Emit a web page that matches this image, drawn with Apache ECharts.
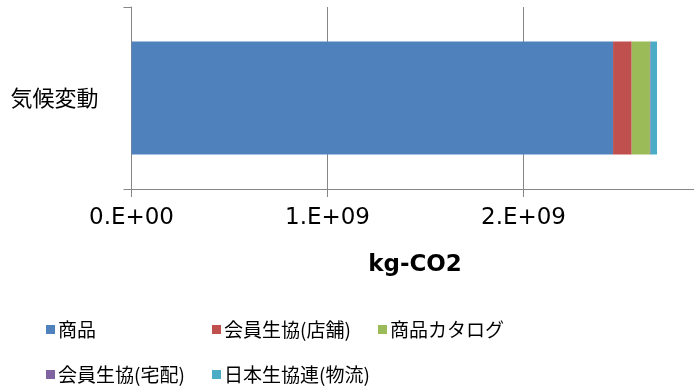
<!DOCTYPE html>
<html lang="ja">
<head>
<meta charset="utf-8" />
<title>気候変動</title>
<script src="https://cdn.jsdelivr.net/npm/echarts@6/dist/echarts.min.js"></script>
<style>
  html, body { margin: 0; padding: 0; background: #fff; }
  #main { width: 694px; height: 388px; }
</style>
</head>
<body>
<div id="main"></div>
<script>
// データ
var categories = ['気候変動'];
var seriesNames = ['商品', '会員生協(店舗)', '商品カタログ', '会員生協(宅配)', '日本生協連(物流)'];
var seriesValues = [
  [2.457e9],   // 商品
  [0.095e9],   // 会員生協(店舗)
  [0.093e9],   // 商品カタログ
  [0.004e9],   // 会員生協(宅配)
  [0.032e9]    // 日本生協連(物流)
];
var colors = ['#4F81BD', '#C0504D', '#9BBB59', '#8064A2', '#4BACC6'];
// 3.E+09 は画像の外なので表示しない
var tickLabels = {0: '0.E+00', 1e9: '1.E+09', 2e9: '2.E+09'};

var jp = '"Noto Sans CJK JP", sans-serif';
var axisColor = '#868686';

var chart = echarts.init(document.getElementById('main'), null, { renderer: 'canvas' });

// 凡例の位置 (行ごと)
var legendPos = [
  { left: 46, top: 320 },
  { left: 212, top: 320 },
  { left: 378, top: 320 },
  { left: 46, top: 365 },
  { left: 212, top: 365 }
];

var legends = seriesNames.map(function (name, i) {
  return {
    data: [name],
    left: legendPos[i].left,
    top: legendPos[i].top,
    icon: 'rect',
    itemWidth: 9,
    itemHeight: 9,
    itemGap: 0,
    padding: 0,
    textStyle: { fontFamily: jp, fontSize: 19, color: '#000', padding: [0, 0, 0, -2] }
  };
});

var series = seriesNames.map(function (name, i) {
  return {
    name: name,
    type: 'bar',
    stack: 'total',
    barWidth: 113,
    itemStyle: { color: colors[i] },
    data: seriesValues[i]
  };
});

var option = {
  animation: false,
  backgroundColor: '#fff',
  color: colors,
  grid: {
    left: 131.5, right: -25.5, top: 7, bottom: 199,
    containLabel: false,
    outerBoundsMode: 'none'
  },
  legend: legends,
  xAxis: {
    type: 'value',
    min: 0,
    max: 3e9,
    interval: 1e9,
    axisLine: { show: true, lineStyle: { color: axisColor, width: 1 } },
    axisTick: { show: true, length: 8, lineStyle: { color: axisColor } },
    splitLine: { show: true, lineStyle: { color: axisColor, width: 1 } },
    axisLabel: {
      margin: 18,
      fontFamily: '"DejaVu Sans", sans-serif',
      fontSize: 23,
      color: '#000',
      formatter: function (v) { return tickLabels[v] !== undefined ? tickLabels[v] : ''; }
    }
  },
  yAxis: {
    type: 'category',
    data: categories,
    axisLine: { show: true, lineStyle: { color: axisColor, width: 1 } },
    axisTick: { show: true, length: 8, lineStyle: { color: axisColor } },
    axisLabel: { margin: 33, fontFamily: jp, fontSize: 22, color: '#000' }
  },
  graphic: [{
    type: 'text',
    x: 415,
    y: 265,
    style: {
      text: 'kg-CO2',
      font: 'bold 23px "DejaVu Sans", sans-serif',
      fill: '#000',
      align: 'center',
      verticalAlign: 'middle'
    }
  }],
  series: series
};

chart.setOption(option);
</script>
</body>
</html>
